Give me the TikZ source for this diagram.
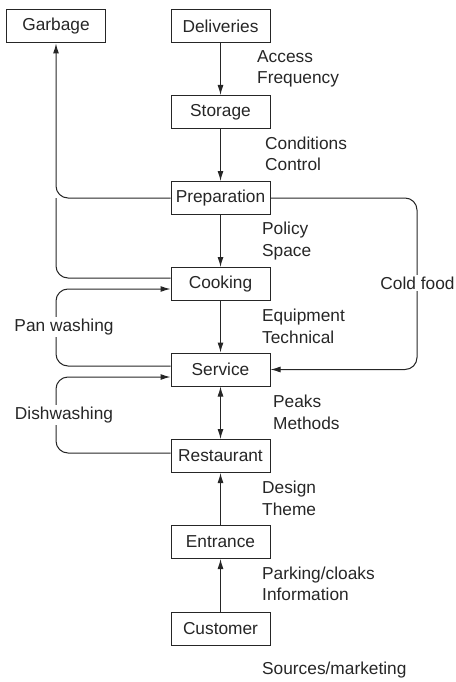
\documentclass[tikz,border=0pt]{standalone}
\usepackage{fontspec}
\setmainfont{Liberation Sans}
\usetikzlibrary{arrows.meta,calc}
\definecolor{ink}{HTML}{262626}
\begin{document}
\begin{tikzpicture}[x=1pt,y=1pt,
  every node/.style={text=ink,font=\fontsize{17.3}{21.5}\selectfont},
  box/.style={draw=ink,line width=1pt,minimum width=99pt,minimum height=33pt,inner sep=0pt,fill=white},
  lbl/.style={anchor=west,align=left,inner sep=0pt},
  gaplbl/.style={fill=white,inner sep=2pt},
  conn/.style={draw=ink,line width=1pt},
  arr/.style={conn,-{Latex[length=10pt,width=6pt]}},
  darr/.style={conn,{Latex[length=10pt,width=6pt]}-{Latex[length=10pt,width=6pt]}}]
\useasboundingbox (0,0) rectangle (455,-682);
% boxes
\node[box] (gar) at (56,-26.5) {Garbage};
\node[box] (del) at (220.5,-26.5) {Deliveries};
\node[box] (sto) at (220.5,-112) {Storage};
\node[box] (pre) at (220.5,-198) {Preparation};
\node[box] (coo) at (220.5,-284) {Cooking};
\node[box] (svc) at (220.5,-369.5) {Service};
\node[box] (res) at (220.5,-456) {Restaurant};
\node[box] (ent) at (220.5,-542) {Entrance};
\node[box] (cus) at (220.5,-628.5) {Customer};
% side labels
\node[lbl] (l1) at (257,-69) {Access\\Frequency};
\node[lbl] (l2) at (265,-154) {Conditions\\Control};
\node[lbl] (l3) at (262,-241) {Policy\\Space};
\node[lbl] (l4) at (262,-326.5) {Equipment\\Technical};
\node[lbl] (l5) at (273,-412.5) {Peaks\\Methods};
\node[lbl] (l6) at (262,-498.5) {Design\\Theme};
\node[lbl] (l7) at (262,-584) {Parking/cloaks\\Information};
\node[lbl] (l8) at (262,-670) {Sources/marketing};
% helper coordinates
\coordinate (L) at (56,0);
\coordinate (R) at (417,0);
\coordinate (cOut) at ([yshift=6pt]coo.west);
\coordinate (cIn) at ([yshift=-5pt]coo.west);
\coordinate (sOut) at ([yshift=3.5pt]svc.west);
\coordinate (sIn) at ([yshift=-7.5pt]svc.west);
\coordinate (rOut) at ([yshift=3pt]res.west);
% main chain
\draw[arr] (del) -- (sto);
\draw[arr] (sto) -- (pre);
\draw[arr] (pre) -- (coo);
\draw[arr] (coo) -- (svc);
\draw[darr] (svc) -- (res);
\draw[arr] (ent) -- (res);
\draw[arr] (cus) -- (ent);
% garbage
\draw[arr,rounded corners=12pt] (pre.west) -| (gar.south);
\draw[conn,rounded corners=12pt] (cOut) -| (L |- pre.west);
% pan washing
\draw[arr,rounded corners=12pt] (sOut) -| (L |- cIn) -- (cIn);
% dishwashing
\draw[arr,rounded corners=12pt] (rOut) -| (L |- sIn) -- (sIn);
% cold food
\draw[arr,rounded corners=12pt] (pre.east) -| (R |- svc.east) -- (svc.east);
% labels on lines
\node[gaplbl] (pw) at (64,-327) {Pan washing};
\node[gaplbl] (dw) at (64,-415) {Dishwashing};
\node[gaplbl] (cf) at (417.5,-283) {Cold food};
\end{tikzpicture}
\end{document}
